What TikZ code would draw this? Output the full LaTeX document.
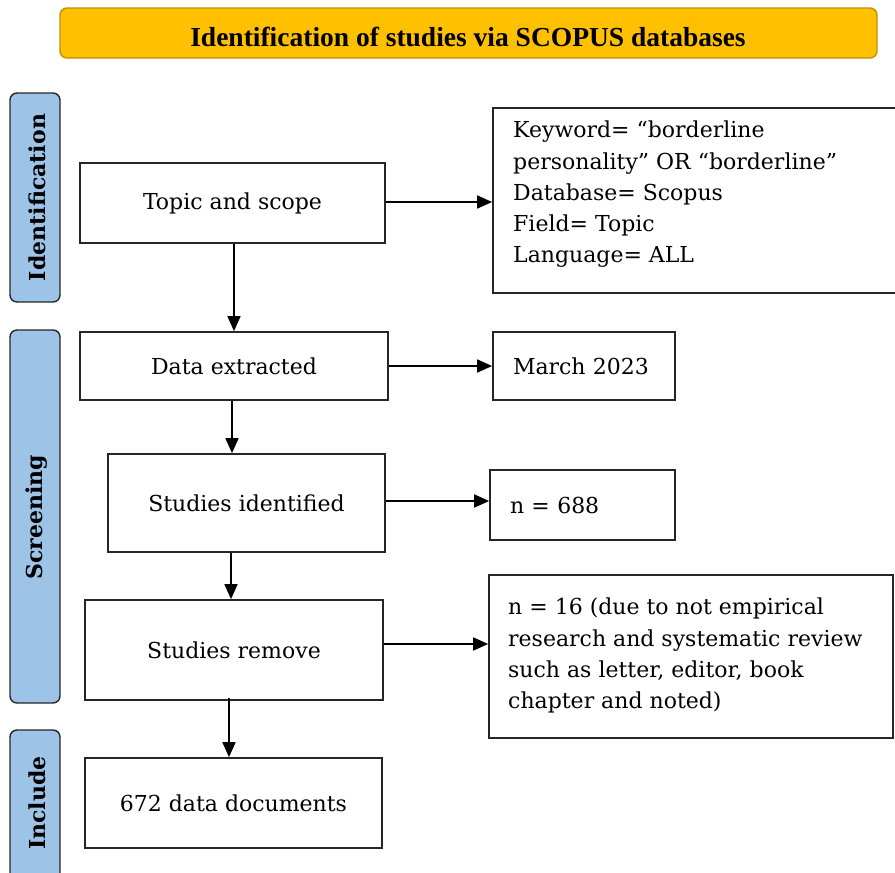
\documentclass[tikz,border=0pt]{standalone}
\usepackage{fontspec}
\setmainfont{DejaVu Serif}
\newfontfamily\titlefont{Liberation Serif}
\usetikzlibrary{arrows.meta}
\definecolor{gold}{HTML}{FFC000}
\definecolor{goldline}{HTML}{BF9000}
\definecolor{sideblue}{HTML}{9DC3E6}
\begin{document}
\begin{tikzpicture}[x=1pt,y=-1pt,
  box/.style={draw=black!85,line width=1.7pt,fill=white,inner sep=0pt,font=\fontsize{22}{30}\selectfont},
  sidebar/.style={draw=black!85,line width=1.4pt,fill=sideblue,rounded corners=7pt,inner sep=0pt},
  sidetext/.style={rotate=90,font=\bfseries\fontsize{22}{24}\selectfont},
  arr/.style={line width=1.7pt,-{Triangle[length=15pt,width=13pt]}}]
\useasboundingbox (0,0) rectangle (895,873);
\begin{scope}
\clip (0,0) rectangle (895,873);
% title banner
\node[draw=goldline,line width=1.4pt,fill=gold,rounded corners=7pt,minimum width=817pt,minimum height=50pt,inner sep=0pt] (title) at (468.5,33) {};
\node[font=\titlefont\bfseries\fontsize{27.5}{30}\selectfont] (titletext) at (468,37) {Identification of studies via SCOPUS databases};
% side bars
\node[sidebar,minimum width=50pt,minimum height=209pt] (sid) at (35,197.5) {};
\node[sidetext] (sidt) at (37,197.5) {Identification};
\node[sidebar,minimum width=50pt,minimum height=373pt] (sscr) at (35,516.5) {};
\node[sidetext] (sscrt) at (37,517) {Screening};
\node[sidebar,minimum width=50pt,minimum height=150pt] (sinc) at (35,805) {};
\node[sidetext] (sinct) at (37,803) {Include};
% boxes
\node[box,minimum width=305pt,minimum height=80pt] (topic) at (232.5,203) {Topic and scope};
\node[box,minimum width=408pt,minimum height=185pt] (kw) at (697,200.5) {};
\node[anchor=north west,inner sep=0pt,align=left,font=\fontsize{22}{31.2}\selectfont] (kwt) at (513,121) {Keyword= “borderline\\ personality” OR “borderline”\\ Database= Scopus\\ Field= Topic\\ Language= ALL};
\node[box,minimum width=308pt,minimum height=68pt] (data) at (234,366) {Data extracted};
\node[box,minimum width=182pt,minimum height=68pt,align=left,text width=142pt] (march) at (584,366) {March 2023};
\node[box,minimum width=277pt,minimum height=98pt] (ident) at (246.5,503) {Studies identified};
\node[box,minimum width=185pt,minimum height=70pt,align=left,text width=145pt] (n688) at (582.5,505) {n = 688};
\node[box,minimum width=298pt,minimum height=100pt] (remove) at (234,650) {Studies remove};
\node[box,minimum width=404pt,minimum height=163pt] (n16) at (691,656.5) {};
\node[anchor=north west,inner sep=0pt,align=left,font=\fontsize{22}{31.2}\selectfont] (n16t) at (508,598) {n = 16 (due to not empirical\\ research and systematic review\\ such as letter, editor, book\\ chapter and noted)};
\node[box,minimum width=297pt,minimum height=90pt] (docs) at (233.5,803) {672 data documents};
% arrows
\draw[arr] ([yshift=1pt]topic.east) -- ([yshift=1pt]topic.east -| kw.west);
\draw[arr] (data.east) -- (data.east -| march.west);
\draw[arr] ([yshift=2pt]ident.east) -- ([yshift=2pt]ident.east -| n688.west);
\draw[arr] ([yshift=6pt]remove.east) -- ([yshift=6pt]remove.east -| n16.west);
\draw[arr] ([xshift=1.5pt]topic.south) -- ([xshift=1.5pt]topic.south |- data.north);
\draw[arr] ([xshift=-2pt]data.south) -- ([xshift=-2pt]data.south |- ident.north);
\draw[arr] ([xshift=-3pt]remove.north |- ident.south) -- ([xshift=-3pt]remove.north);
\draw[arr] ([xshift=-5pt,yshift=3pt]remove.south) -- ([xshift=-5pt]remove.south |- docs.north);
\end{scope}
\end{tikzpicture}
\end{document}
